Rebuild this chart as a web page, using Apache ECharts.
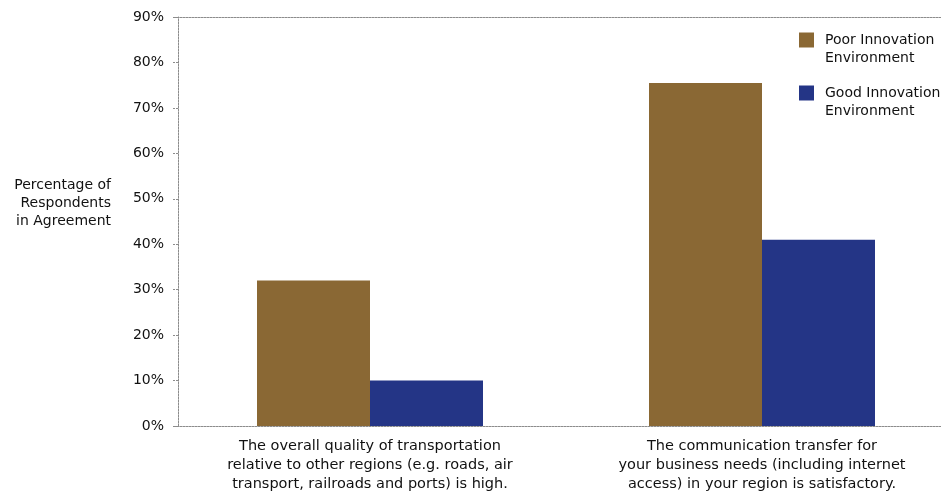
<!DOCTYPE html>
<html>
<head>
<meta charset="utf-8">
<script src="https://cdn.jsdelivr.net/npm/echarts@6/dist/echarts.min.js"></script>
<style>
  html, body { margin: 0; padding: 0; background: #fff; }
  #chart { width: 941px; height: 500px; }
</style>
</head>
<body>
<div id="chart"></div>
<script>
// Survey statements (x categories)
const categories = [
  'The overall quality of transportation\nrelative to other regions (e.g. roads, air\ntransport, railroads and ports) is high.',
  'The communication transfer for\nyour business needs (including internet\naccess) in your region is satisfactory.'
];
// Share of respondents agreeing, in percent
const poorInnovation = [32, 75.5];
const goodInnovation = [10, 41];
const seriesNames = ['Poor Innovation\nEnvironment', 'Good Innovation\nEnvironment'];
const yAxisTitle = 'Percentage of\nRespondents\nin Agreement';

const FONT = 'DejaVu Sans';
const INK = '#111111';
const dotted = { color: '#8c8c8c', width: 1, type: [2, 1] };

const chart = echarts.init(document.getElementById('chart'), null, { renderer: 'canvas' });
chart.setOption({
  animation: false,
  backgroundColor: '#ffffff',
  textStyle: { fontFamily: FONT, color: INK },
  // plot area runs past the right edge of the canvas
  grid: { left: 174, width: 784, top: 17, bottom: 74, containLabel: false, outerBoundsMode: 'none' },
  legend: {
    orient: 'vertical',
    left: 799,
    top: 13,
    padding: 0,
    itemWidth: 15,
    itemHeight: 15,
    itemGap: -1,
    icon: 'rect',
    selectedMode: false,
    // leading blank line keeps the swatch level with the first text line
    formatter: (name) => '\n' + name,
    textStyle: { fontFamily: FONT, fontSize: 14, color: INK, lineHeight: 18, padding: [0, 0, 0, 6] },
    data: seriesNames
  },
  xAxis: [
    {
      type: 'category',
      data: categories,
      position: 'bottom',
      axisLine: { show: true, lineStyle: dotted },
      axisTick: { show: false },
      axisLabel: { fontFamily: FONT, fontSize: 14.5, color: INK, lineHeight: 19, margin: 11, interval: 0 },
      splitLine: { show: false }
    },
    {
      type: 'category',
      data: categories,
      position: 'top',
      axisLine: { show: true, lineStyle: dotted },
      axisTick: { show: false },
      axisLabel: { show: false },
      splitLine: { show: false }
    }
  ],
  yAxis: {
    type: 'value',
    min: 0,
    max: 90,
    interval: 10,
    offset: -4,
    // trailing blank lines lift the title block above the axis middle
    name: yAxisTitle + '\n\n',
    nameLocation: 'middle',
    nameRotate: 0,
    nameGap: 67,
    nameTextStyle: { fontFamily: FONT, fontSize: 14, color: INK, lineHeight: 18, align: 'right' },
    axisLine: { show: true, lineStyle: dotted },
    axisTick: { show: true, length: 6, lineStyle: dotted },
    axisLabel: { formatter: '{value}%', fontFamily: FONT, fontSize: 14, color: INK, margin: 14 },
    splitLine: { show: false }
  },
  series: [
    {
      name: seriesNames[0],
      type: 'bar',
      data: poorInnovation,
      barWidth: 113,
      barGap: '0%',
      itemStyle: { color: '#8a6834' }
    },
    {
      name: seriesNames[1],
      type: 'bar',
      data: goodInnovation,
      barWidth: 113,
      barGap: '0%',
      itemStyle: { color: '#243586' }
    }
  ]
});
</script>
</body>
</html>
